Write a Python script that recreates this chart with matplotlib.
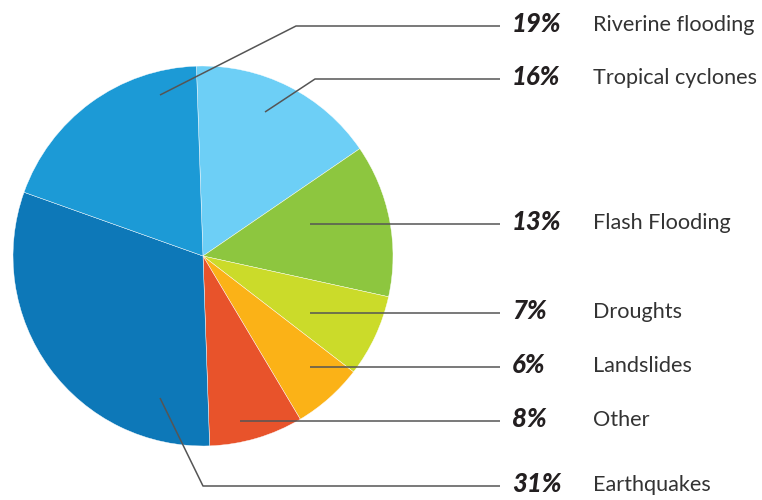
import matplotlib.pyplot as plt

# Hazard shares, clockwise from the top of the pie
hazards = ["Tropical cyclones", "Flash Flooding", "Droughts", "Landslides",
           "Other", "Earthquakes", "Riverine flooding"]
shares = [16, 13, 7, 6, 8, 31, 19]
colors = ["#6DCFF6", "#8DC63F", "#CBDB2A", "#FBB217",
          "#E8532B", "#0D78B8", "#1C9AD6"]

# label order down the right-hand side
label_order = ["Riverine flooding", "Tropical cyclones", "Flash Flooding",
               "Droughts", "Landslides", "Other", "Earthquakes"]
label_y = [24, 77, 222, 311, 365, 419, 484]
# leader lines: points from inside the slice to the label column
leaders = {
    "Riverine flooding": [(160, 95), (296, 26)],
    "Tropical cyclones": [(265, 112), (315, 79)],
    "Flash Flooding": [(310, 224)],
    "Droughts": [(310, 313)],
    "Landslides": [(310, 367)],
    "Other": [(240, 421)],
    "Earthquakes": [(160, 398), (203, 486)],
}

W, H = 762, 500
fig = plt.figure(figsize=(W / 100, H / 100), dpi=100, facecolor="white")
ax = fig.add_axes([0, 0, 1, 1])


def fy(y):
    return H - y


ax.pie(shares, colors=colors, startangle=92, counterclock=False,
       center=(203, fy(256)), radius=190, frame=True,
       wedgeprops=dict(linewidth=0.3, edgecolor="white"))
ax.set_xlim(0, W)
ax.set_ylim(0, H)
ax.set_aspect("equal")
ax.axis("off")

pct = dict(zip(hazards, shares))
for name, y in zip(label_order, label_y):
    pts = leaders[name] + [(500, leaders[name][-1][1])]
    ax.plot([p[0] for p in pts], [fy(p[1]) for p in pts],
            color="#555555", linewidth=1.1, solid_capstyle="butt", zorder=5)
    ax.text(512, fy(y), f"{pct[name]}%", fontsize=18.5, fontweight=900,
            fontstyle="italic", family="Lato", color="#231F20",
            va="center", ha="left")
    ax.text(593, fy(y + 1), name, fontsize=15.6, family="Lato",
            color="#333333", va="center", ha="left")

fig.savefig("out.png", dpi=100, facecolor="white")
